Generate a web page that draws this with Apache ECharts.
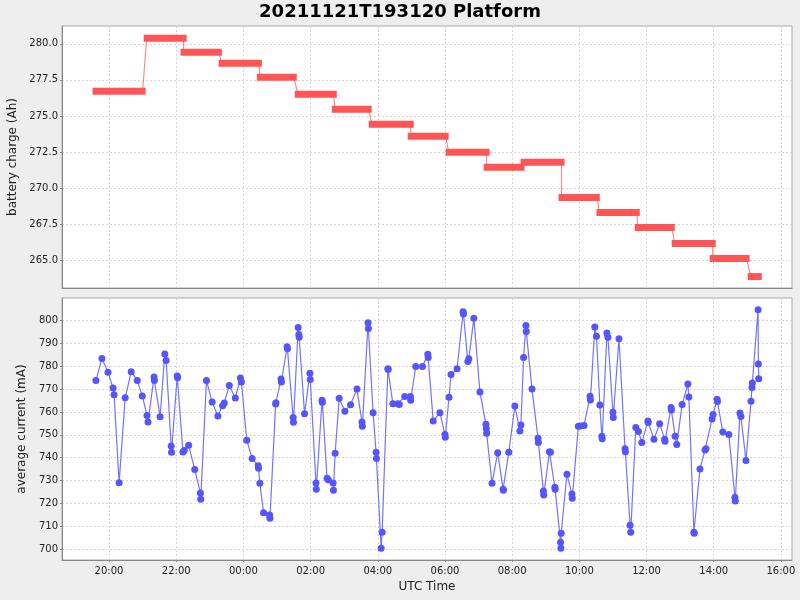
<!DOCTYPE html>
<html>
<head>
<meta charset="UTF-8">
<title>20211121T193120 Platform</title>
<script src="https://cdn.jsdelivr.net/npm/echarts@6.0.0/dist/echarts.min.js"></script>
<style>
    html, body { margin: 0; padding: 0; background: #eeeeee; }
    #chart { width: 800px; height: 600px; }
</style>
</head>
<body>
<div id="chart"></div>
<script>
// times are hours after 2021-11-21 00:00 UTC (24 = 00:00 on the 22nd)

// battery charge: one bar per interval
const barStart = [19.60, 21.12, 22.22, 23.35, 24.49, 25.62, 26.72, 27.82, 28.98, 30.11, 31.24, 32.34, 33.47, 34.60, 35.74, 36.84, 37.97, 39.10];
const barEnd = [21.00, 22.22, 23.27, 24.46, 25.50, 26.69, 27.73, 28.98, 30.02, 31.24, 32.28, 33.47, 34.52, 35.71, 36.75, 37.97, 38.98, 39.34];
const barCharge = [276.71, 280.38, 279.41, 278.66, 277.69, 276.51, 275.47, 274.43, 273.60, 272.49, 271.45, 271.80, 269.37, 268.33, 267.29, 266.18, 265.14, 263.89];

// average current samples
const currentTime = [
    19.61, 19.79, 19.97, 20.12, 20.15, 20.30, 20.48, 20.66, 20.84, 20.99,
    21.13, 21.16, 21.34, 21.35, 21.52, 21.66, 21.70, 21.85, 21.86, 22.03,
    22.04, 22.20, 22.24, 22.37, 22.55, 22.72, 22.73, 22.90, 23.07, 23.24,
    23.38, 23.43, 23.58, 23.76, 23.91, 23.94, 24.10, 24.26, 24.44, 24.45,
    24.49, 24.60, 24.78, 24.79, 24.96, 24.97, 25.12, 25.13, 25.30, 25.31,
    25.48, 25.49, 25.63, 25.65, 25.66, 25.82, 25.98, 25.99, 26.16, 26.17,
    26.34, 26.35, 26.49, 26.53, 26.67, 26.68, 26.73, 26.85, 27.02, 27.19,
    27.38, 27.53, 27.54, 27.71, 27.72, 27.86, 27.95, 27.96, 28.10, 28.13,
    28.30, 28.31, 28.45, 28.60, 28.64, 28.80, 28.97, 28.98, 29.13, 29.33,
    29.49, 29.50, 29.65, 29.85, 30.00, 30.01, 30.12, 30.18, 30.36, 30.54,
    30.55, 30.68, 30.71, 30.86, 31.04, 31.22, 31.23, 31.24, 31.40, 31.57,
    31.73, 31.74, 31.90, 32.08, 32.23, 32.26, 32.34, 32.41, 32.42, 32.59,
    32.77, 32.78, 32.93, 32.94, 33.11, 33.14, 33.27, 33.28, 33.44, 33.45,
    33.46, 33.63, 33.78, 33.79, 33.97, 34.03, 34.14, 34.32, 34.33, 34.46,
    34.51, 34.61, 34.67, 34.68, 34.82, 34.85, 35.00, 35.01, 35.18, 35.36,
    35.37, 35.51, 35.53, 35.68, 35.76, 35.86, 36.04, 36.05, 36.22, 36.39,
    36.54, 36.55, 36.73, 36.74, 36.85, 36.90, 37.06, 37.23, 37.26, 37.41,
    37.42, 37.59, 37.74, 37.77, 37.95, 37.98, 38.10, 38.11, 38.27, 38.45,
    38.63, 38.64, 38.78, 38.81, 38.96, 39.11, 39.14, 39.15, 39.32, 39.33,
    39.34
];
const currentMa = [
    773.7, 783.4, 777.3, 770.5, 767.5, 729.1, 766.2, 777.6, 773.8, 767.0,
    758.5, 755.6, 775.3, 773.8, 757.9, 785.3, 782.5, 745.1, 742.4, 775.7,
    775.0, 742.5, 743.1, 745.4, 734.9, 724.6, 721.8, 773.7, 764.3, 758.2,
    762.7, 763.9, 771.6, 766.1, 774.8, 773.1, 747.6, 739.7, 736.5, 735.4,
    728.8, 716.0, 715.0, 713.5, 763.5, 764.0, 774.4, 773.1, 788.5, 787.6,
    757.6, 755.5, 796.9, 793.9, 792.6, 759.2, 776.9, 774.2, 729.0, 726.2,
    765.1, 764.2, 731.0, 730.3, 729.0, 725.8, 741.9, 766.0, 760.3, 763.2,
    770.0, 755.6, 753.7, 799.0, 796.5, 759.7, 742.4, 739.7, 700.4, 707.4,
    778.9, 778.6, 763.6, 763.6, 763.3, 766.8, 766.7, 765.1, 779.9, 779.9,
    785.2, 783.8, 756.0, 759.7, 750.1, 748.9, 766.4, 776.4, 778.9, 803.8,
    802.8, 782.1, 783.3, 801.0, 768.7, 754.6, 752.8, 750.7, 728.8, 742.2,
    726.2, 725.8, 742.4, 762.6, 751.7, 754.3, 783.8, 797.8, 795.2, 770.0,
    748.5, 746.7, 725.5, 723.7, 742.6, 742.4, 727.1, 726.2, 703.1, 700.4,
    707.0, 732.8, 724.1, 722.3, 753.8, 753.9, 754.1, 766.9, 765.2, 797.1,
    793.1, 763.0, 749.4, 748.3, 794.5, 792.7, 759.9, 757.6, 792.0, 743.9,
    742.6, 710.5, 707.4, 753.2, 751.5, 746.6, 756.0, 755.4, 748.1, 754.8,
    748.1, 747.2, 762.0, 760.8, 749.4, 745.8, 763.3, 772.2, 766.5, 707.4,
    707.0, 735.1, 743.4, 743.9, 756.9, 758.9, 765.6, 764.6, 751.2, 750.1,
    722.7, 721.1, 759.5, 758.0, 738.8, 764.7, 770.7, 772.6, 804.7, 781.0,
    774.5
];

// tick labels
const timeTicks = [20, 22, 24, 26, 28, 30, 32, 34, 36, 38, 40];
const chargeTicks = [265.0, 267.5, 270.0, 272.5, 275.0, 277.5, 280.0];
const currentTicks = [700, 710, 720, 730, 740, 750, 760, 770, 780, 790, 800];

const chart = echarts.init(document.getElementById('chart'));

const font = 'DejaVu Sans, sans-serif';
const gridLine = { show: true, lineStyle: { color: '#d6d6d6', type: [2, 2], width: 1 } };

const barData = barStart.map((s, i) => [s, barEnd[i], barCharge[i]]);
const stepLine = [];
barStart.forEach((s, i) => {
    stepLine.push([s, barCharge[i]]);
    stepLine.push([barEnd[i], barCharge[i]]);
});
const currentData = currentTime.map((t, i) => [t, currentMa[i]]);

function hhmm(v) {
    const h = Math.round(v) % 24;
    return (h < 10 ? '0' + h : '' + h) + ':00';
}

const xCommon = {
    type: 'value',
    min: 18.6,
    max: 40.33,
    axisLine: { show: true, lineStyle: { color: '#888' } },
    splitLine: gridLine
};

const option = {
    backgroundColor: '#eeeeee',
    animation: false,
    title: {
        text: '20211121T193120 Platform',
        left: 'center',
        top: -2,
        textStyle: { fontFamily: font, fontSize: 18, fontWeight: 'bold', color: '#000' }
    },
    grid: [
        { left: 62, top: 26, width: 730, height: 262, outerBoundsMode: 'none', containLabel: false,
          show: true, backgroundColor: '#fff', borderColor: '#a8a8a8' },
        { left: 62, top: 298, width: 730, height: 262, outerBoundsMode: 'none', containLabel: false,
          show: true, backgroundColor: '#fff', borderColor: '#a8a8a8' }
    ],
    xAxis: [
        Object.assign({}, xCommon, {
            gridIndex: 0,
            axisLabel: { show: false, customValues: timeTicks },
            axisTick: { show: false, customValues: timeTicks }
        }),
        Object.assign({}, xCommon, {
            gridIndex: 1,
            name: 'UTC Time',
            nameLocation: 'middle',
            nameGap: 21,
            nameTextStyle: { fontFamily: font, fontSize: 12, color: '#222' },
            axisTick: { show: true, length: 2, lineStyle: { color: '#888' }, customValues: timeTicks },
            axisLabel: {
                customValues: timeTicks,
                formatter: hhmm,
                margin: 6,
                fontFamily: font, fontSize: 10, color: '#222'
            }
        })
    ],
    yAxis: [
        {
            gridIndex: 0,
            type: 'value',
            min: 263.1,
            max: 281.23,
            name: 'battery charge (Ah)',
            nameLocation: 'middle',
            nameRotate: 90,
            nameGap: 37,
            nameTextStyle: { fontFamily: font, fontSize: 12, color: '#222' },
            axisLine: { show: true, lineStyle: { color: '#888' } },
            axisTick: { show: true, length: 2, lineStyle: { color: '#888' }, customValues: chargeTicks },
            axisLabel: {
                customValues: chargeTicks,
                formatter: v => v.toFixed(1),
                margin: 4,
                fontFamily: font, fontSize: 10, color: '#222'
            },
            splitLine: gridLine
        },
        {
            gridIndex: 1,
            type: 'value',
            min: 695.3,
            max: 809.8,
            name: 'average current (mA)',
            nameLocation: 'middle',
            nameRotate: 90,
            nameGap: 27,
            nameTextStyle: { fontFamily: font, fontSize: 12, color: '#222' },
            axisLine: { show: true, lineStyle: { color: '#888' } },
            axisTick: { show: true, length: 2, lineStyle: { color: '#888' }, customValues: currentTicks },
            axisLabel: {
                customValues: currentTicks,
                margin: 4,
                fontFamily: font, fontSize: 10, color: '#222'
            },
            splitLine: gridLine
        }
    ],
    series: [
        {
            name: 'connector',
            type: 'line',
            xAxisIndex: 0,
            yAxisIndex: 0,
            data: stepLine,
            showSymbol: false,
            lineStyle: { color: '#ff8a8a', width: 1.2 },
            z: 2
        },
        {
            name: 'battery charge',
            type: 'custom',
            xAxisIndex: 0,
            yAxisIndex: 0,
            data: barData,
            encode: { x: [0, 1], y: 2 },
            renderItem: function (params, api) {
                const a = api.coord([api.value(0), api.value(2)]);
                const b = api.coord([api.value(1), api.value(2)]);
                return {
                    type: 'rect',
                    shape: { x: a[0] - 3, y: a[1] - 3.5, width: b[0] - a[0] + 6, height: 7 },
                    style: { fill: '#ff5555' }
                };
            },
            z: 3
        },
        {
            name: 'average current',
            type: 'line',
            xAxisIndex: 1,
            yAxisIndex: 1,
            data: currentData,
            symbol: 'circle',
            symbolSize: 7,
            itemStyle: { color: '#5555ff' },
            lineStyle: { color: '#7373ff', width: 1.2 }
        }
    ]
};

chart.setOption(option);
</script>
</body>
</html>
